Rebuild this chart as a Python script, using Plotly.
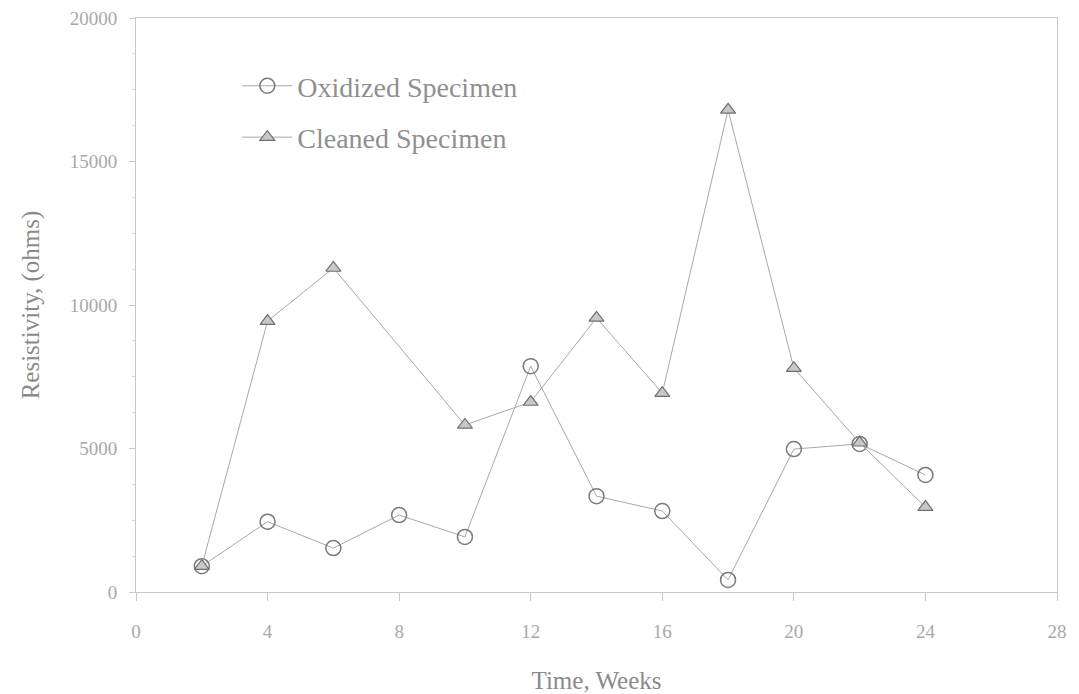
import plotly.graph_objects as go

weeks = [2, 4, 6, 8, 10, 12, 14, 16, 18, 20, 22, 24]
oxidized = [900, 2450, 1530, 2680, 1920, 7870, 3340, 2820, 420, 4980, 5160, 4080]
cleaned_weeks = [2, 4, 6, 10, 12, 14, 16, 18, 20, 22, 24]
cleaned = [900, 9440, 11290, 5820, 6620, 9550, 6930, 16800, 7800, 5200, 2960]
x_ticks = [0, 4, 8, 12, 16, 20, 24, 28]
y_ticks = [0, 5000, 10000, 15000, 20000]

fig = go.Figure()
fig.add_trace(go.Scatter(
    x=weeks, y=oxidized, mode="lines+markers", name="Oxidized Specimen",
    legendgroup="a",
    line=dict(color="#a8a8a8", width=1),
    marker=dict(symbol="circle-open", size=15, color="#7a7a7a", line=dict(width=1.5)),
))
fig.add_trace(go.Scatter(
    x=cleaned_weeks, y=cleaned, mode="lines+markers", name="Cleaned Specimen",
    legendgroup="b",
    line=dict(color="#a8a8a8", width=1),
    marker=dict(symbol="triangle-up", size=13, color="#c8c8c8", line=dict(width=1.2, color="#707070")),
))

font_family = "Liberation Serif, Times New Roman, serif"
fig.update_layout(
    width=1079, height=694,
    margin=dict(l=136, r=22, t=18, b=102),
    paper_bgcolor="white", plot_bgcolor="white",
    font=dict(family=font_family, color="#9a9a9a"),
    showlegend=True,
    legend=dict(x=0.11, y=0.925, xanchor="left", yanchor="top",
                font=dict(size=28, color="#8f8f8f"), bgcolor="rgba(0,0,0,0)",
                itemwidth=50, tracegroupgap=12, traceorder="grouped"),
    xaxis=dict(range=[0, 28], tickvals=x_ticks, ticktext=[str(v) for v in x_ticks],
               automargin=False,
               showgrid=False, zeroline=False, showline=True, linecolor="#c8c8c8", linewidth=1,
               mirror=True, ticks="outside", ticklen=8, tickcolor="#c8c8c8",
               ticklabelstandoff=14,
               tickfont=dict(size=19, color="#a8a8a8"),
               title=dict(text="Time, Weeks", font=dict(size=25, color="#8a8a8a"), standoff=30)),
    yaxis=dict(range=[0, 20000], tickvals=y_ticks, ticktext=[str(v) for v in y_ticks],
               automargin=False,
               showgrid=False, zeroline=False, showline=True, linecolor="#c8c8c8", linewidth=1,
               mirror=True, ticks="outside", ticklen=6, tickcolor="#c8c8c8",
               ticklabelstandoff=8,
               minor=dict(dtick=1250, ticks="outside", ticklen=3, tickcolor="#d4d4d4"),
               tickfont=dict(size=19, color="#a8a8a8"),
               title=dict(text="Resistivity, (ohms)", font=dict(size=25, color="#8a8a8a"), standoff=22)),
)

fig.write_html("out.html")
